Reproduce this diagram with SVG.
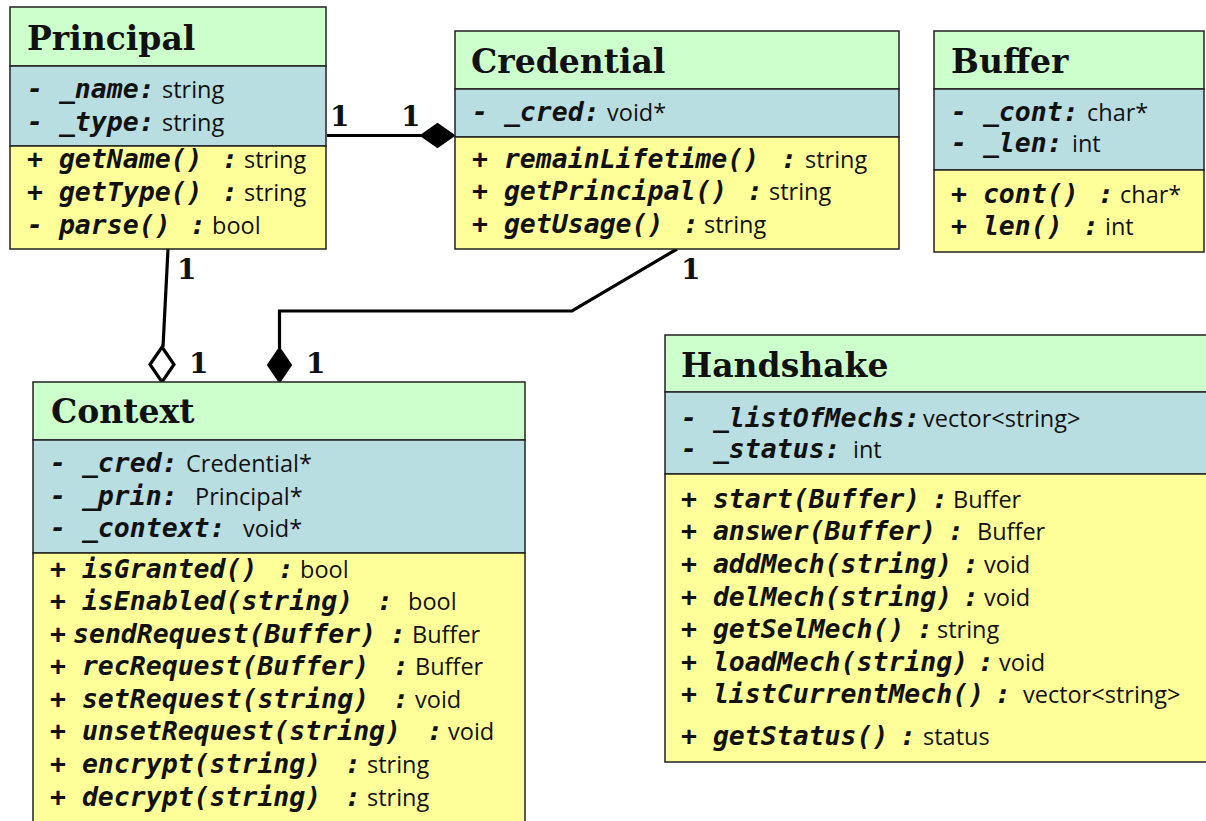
<svg xmlns="http://www.w3.org/2000/svg" width="1206" height="821" viewBox="0 0 1206 821">
<style>
.bg{fill:#ffffff}
.ti{fill:#ccffcc;stroke:#222;stroke-width:1.5}
.at{fill:#b9dee1;stroke:#222;stroke-width:1.5}
.me{fill:#ffff99;stroke:#222;stroke-width:1.5}
.h{font-family:"DejaVu Serif","Liberation Serif",serif;font-weight:bold;font-size:33px;fill:#111}
.m{font-family:"DejaVu Sans Mono","Liberation Mono",monospace;font-weight:bold;font-style:oblique;font-size:26.5px;fill:#111}
.t{font-family:"Open Sans","Liberation Sans",sans-serif;font-size:23.5px;fill:#111}
.ln{fill:none;stroke:#000;stroke-width:3.2}
.df{fill:#000;stroke:#000;stroke-width:2}
.do{fill:#fff;stroke:#000;stroke-width:3.2}
.n{font-family:"DejaVu Serif","Liberation Serif",serif;font-weight:bold;font-size:28px;fill:#111}
</style>
<rect class="bg" x="0" y="0" width="1206" height="821"/>

<g id="connectors">
<path class="ln" d="M327,135.5 H421"/>
<polygon class="df" points="421,135.5 437.5,124 454,135.5 437.5,147"/>
<path class="ln" d="M168,249 L163,347"/>
<polygon class="do" points="162,347 174,364.5 162,382 150,364.5"/>
<path class="ln" d="M677,249 L572,311 H279.5 V348"/>
<polygon class="df" points="279.5,348 291,365 279.5,382 268,365"/>
<text class="n" x="330" y="126">1</text>
<text class="n" x="401" y="126">1</text>
<text class="n" x="177" y="279">1</text>
<text class="n" x="189" y="373">1</text>
<text class="n" x="306" y="373">1</text>
<text class="n" x="681" y="279">1</text>
</g>

<g id="principal">
<rect class="ti" x="10" y="7" width="316" height="59"/>
<rect class="at" x="10" y="66" width="316" height="80"/>
<rect class="me" x="10" y="146" width="316" height="103"/>
<text class="h" x="27" y="50">Principal</text>
<text y="98"><tspan class="m" x="27">- _name:</tspan><tspan class="t" x="162">string</tspan></text>
<text y="131"><tspan class="m" x="27">- _type:</tspan><tspan class="t" x="162">string</tspan></text>
<text y="168"><tspan class="m" x="27">+ getName()</tspan><tspan class="m" x="222">:</tspan><tspan class="t" x="244">string</tspan></text>
<text y="201"><tspan class="m" x="27">+ getType()</tspan><tspan class="m" x="222">:</tspan><tspan class="t" x="244">string</tspan></text>
<text y="234"><tspan class="m" x="27">- parse()</tspan><tspan class="m" x="190">:</tspan><tspan class="t" x="212">bool</tspan></text>
</g>

<g id="credential">
<rect class="ti" x="455" y="31" width="444" height="58"/>
<rect class="at" x="455" y="89" width="444" height="48"/>
<rect class="me" x="455" y="137" width="444" height="112"/>
<text class="h" x="471" y="73">Credential</text>
<text y="121"><tspan class="m" x="472">- _cred:</tspan><tspan class="t" x="607">void*</tspan></text>
<text y="168"><tspan class="m" x="472">+ remainLifetime()</tspan><tspan class="m" x="781">:</tspan><tspan class="t" x="805">string</tspan></text>
<text y="200"><tspan class="m" x="472">+ getPrincipal()</tspan><tspan class="m" x="747">:</tspan><tspan class="t" x="769">string</tspan></text>
<text y="233"><tspan class="m" x="472">+ getUsage()</tspan><tspan class="m" x="683">:</tspan><tspan class="t" x="704">string</tspan></text>
</g>

<g id="buffer">
<rect class="ti" x="934" y="31" width="270" height="58"/>
<rect class="at" x="934" y="89" width="270" height="81"/>
<rect class="me" x="934" y="170" width="270" height="82"/>
<text class="h" x="951" y="73">Buffer</text>
<text y="121"><tspan class="m" x="951">- _cont:</tspan><tspan class="t" x="1087">char*</tspan></text>
<text y="152"><tspan class="m" x="951">- _len:</tspan><tspan class="t" x="1072">int</tspan></text>
<text y="203"><tspan class="m" x="951">+ cont()</tspan><tspan class="m" x="1098">:</tspan><tspan class="t" x="1120">char*</tspan></text>
<text y="235"><tspan class="m" x="951">+ len()</tspan><tspan class="m" x="1083">:</tspan><tspan class="t" x="1105">int</tspan></text>
</g>

<g id="context">
<rect class="ti" x="33" y="382" width="492" height="58"/>
<rect class="at" x="33" y="440" width="492" height="113"/>
<rect class="me" x="33" y="553" width="492" height="280"/>
<text class="h" x="51" y="423">Context</text>
<text y="472"><tspan class="m" x="50">- _cred:</tspan><tspan class="t" x="186">Credential*</tspan></text>
<text y="505"><tspan class="m" x="50">- _prin:</tspan><tspan class="t" x="195">Principal*</tspan></text>
<text y="537"><tspan class="m" x="50">- _context:</tspan><tspan class="t" x="243">void*</tspan></text>
<text y="578"><tspan class="m" x="50">+ isGranted()</tspan><tspan class="m" x="278">:</tspan><tspan class="t" x="300">bool</tspan></text>
<text y="610"><tspan class="m" x="50">+ isEnabled(string)</tspan><tspan class="m" x="377">:</tspan><tspan class="t" x="408">bool</tspan></text>
<text y="643"><tspan class="m" x="50">+</tspan><tspan class="m" x="73">sendRequest(Buffer)</tspan><tspan class="m" x="390">:</tspan><tspan class="t" x="412">Buffer</tspan></text>
<text y="675"><tspan class="m" x="50">+ recRequest(Buffer)</tspan><tspan class="m" x="393">:</tspan><tspan class="t" x="415">Buffer</tspan></text>
<text y="708"><tspan class="m" x="50">+ setRequest(string)</tspan><tspan class="m" x="393">:</tspan><tspan class="t" x="415">void</tspan></text>
<text y="740"><tspan class="m" x="50">+ unsetRequest(string)</tspan><tspan class="m" x="427">:</tspan><tspan class="t" x="448">void</tspan></text>
<text y="773"><tspan class="m" x="50">+ encrypt(string)</tspan><tspan class="m" x="345">:</tspan><tspan class="t" x="367">string</tspan></text>
<text y="806"><tspan class="m" x="50">+ decrypt(string)</tspan><tspan class="m" x="345">:</tspan><tspan class="t" x="367">string</tspan></text>
</g>

<g id="handshake">
<rect class="ti" x="665" y="335" width="550" height="57"/>
<rect class="at" x="665" y="392" width="550" height="82"/>
<rect class="me" x="665" y="474" width="550" height="288"/>
<text class="h" x="681" y="377">Handshake</text>
<text y="427"><tspan class="m" x="681">- _listOfMechs:</tspan><tspan class="t" x="923">vector&lt;string&gt;</tspan></text>
<text y="458"><tspan class="m" x="681">- _status:</tspan><tspan class="t" x="853">int</tspan></text>
<text y="508"><tspan class="m" x="681">+ start(Buffer)</tspan><tspan class="m" x="932">:</tspan><tspan class="t" x="953">Buffer</tspan></text>
<text y="540"><tspan class="m" x="681">+ answer(Buffer)</tspan><tspan class="m" x="948">:</tspan><tspan class="t" x="977">Buffer</tspan></text>
<text y="573"><tspan class="m" x="681">+ addMech(string)</tspan><tspan class="m" x="963">:</tspan><tspan class="t" x="984">void</tspan></text>
<text y="606"><tspan class="m" x="681">+ delMech(string)</tspan><tspan class="m" x="963">:</tspan><tspan class="t" x="984">void</tspan></text>
<text y="638"><tspan class="m" x="681">+ getSelMech()</tspan><tspan class="m" x="917">:</tspan><tspan class="t" x="937">string</tspan></text>
<text y="671"><tspan class="m" x="681">+ loadMech(string)</tspan><tspan class="m" x="978">:</tspan><tspan class="t" x="999">void</tspan></text>
<text y="703"><tspan class="m" x="681">+ listCurrentMech()</tspan><tspan class="m" x="995">:</tspan><tspan class="t" x="1023">vector&lt;string&gt;</tspan></text>
<text y="745"><tspan class="m" x="681">+ getStatus()</tspan><tspan class="m" x="900">:</tspan><tspan class="t" x="923">status</tspan></text>
</g>
</svg>
